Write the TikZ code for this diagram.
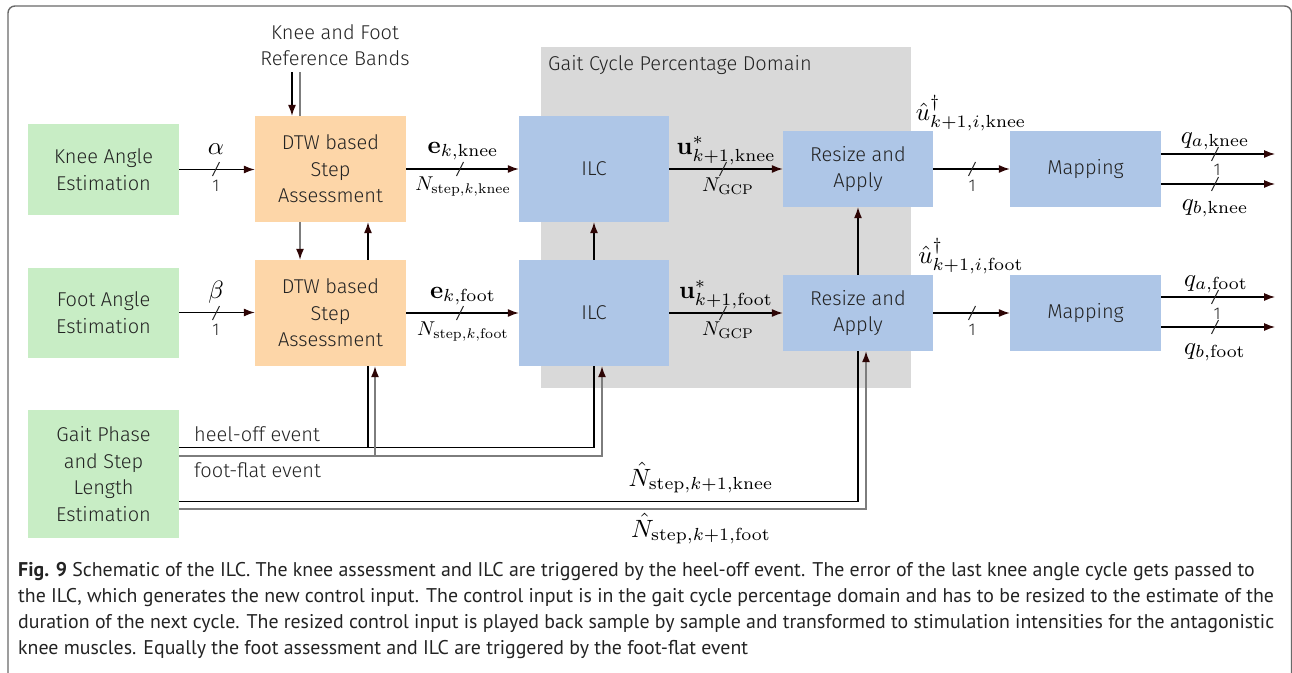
\RequirePackage{fix-cm}
\documentclass[tikz,border=0pt]{standalone}
\usepackage[no-math]{fontspec}
\setmainfont{Fira Sans Light}
\newfontfamily\capfont{PT Sans}
\usetikzlibrary{arrows.meta,calc}
\definecolor{boxgreen}{RGB}{200,237,197}
\definecolor{boxorange}{RGB}{253,214,168}
\definecolor{boxblue}{RGB}{174,198,231}
\definecolor{domgray}{RGB}{217,217,217}
\definecolor{linegray}{RGB}{125,125,125}
\definecolor{arrowc}{RGB}{45,5,5}
\definecolor{framec}{RGB}{105,105,105}
\definecolor{textc}{RGB}{35,35,35}
\pgfdeclarelayer{bgA}\pgfdeclarelayer{bgB}
\pgfsetlayers{bgA,bgB,main}
\tikzset{
  box/.style={draw=none, inner sep=0pt, align=center, text=textc,
    font=\fontsize{20}{26.5}\selectfont},
  gbox/.style={box, fill=boxgreen, minimum width=151pt},
  obox/.style={box, fill=boxorange, minimum width=151pt, minimum height=106pt},
  bbox/.style={box, fill=boxblue},
  arr/.style={-{Latex[length=11pt,width=8pt,color=arrowc]}},
  blk/.style={draw=black, line width=1.2pt},
  gry/.style={draw=linegray, line width=1.4pt},
  bigm/.style={inner sep=0pt, text=black, font=\fontsize{10}{12}\selectfont, scale=2.5, anchor=base},
  smallm/.style={inner sep=0pt, text=black, font=\fontsize{10}{12}\selectfont, scale=2.0, anchor=base},
  one/.style={inner sep=0pt, text=textc, font=\fontsize{17}{20}\selectfont},
  plain/.style={inner sep=0pt, text=textc, font=\fontsize{20}{26.5}\selectfont},
  slsh/.pic={\draw[line width=1pt, black!85] (-3.5,7) -- (3.5,-7);}
}
\begin{document}
\begin{tikzpicture}[x=1pt,y=-1pt]
\useasboundingbox (0,0) rectangle (1292,672);
\clip (0,0) rectangle (1292,672);
\draw[framec, line width=1.4pt, rounded corners=7pt] (8,6) rectangle (1291.5,720);

% domain
\begin{pgfonlayer}{bgA}
\fill[domgray] (541,47) rectangle (911,388);
\end{pgfonlayer}
\node[plain, anchor=base west] (domlab) at (548,70) {Gait Cycle Percentage Domain};

% boxes
\node[gbox, minimum height=91pt] (kae) at (103.5,169.5) {Knee Angle\\Estimation};
\node[gbox, minimum height=90pt] (fae) at (103.5,312.5) {Foot Angle\\Estimation};
\node[gbox, minimum height=128pt] (gait) at (103.5,474) {Gait Phase\\and Step\\Length\\Estimation};
\node[obox] (dtwk) at (330.5,169) {DTW based\\Step\\Assessment};
\node[obox] (dtwf) at (330.5,313) {DTW based\\Step\\Assessment};
\node[bbox, minimum width=150pt, minimum height=106pt] (ilck) at (594,169) {ILC};
\node[bbox, minimum width=150pt, minimum height=106pt] (ilcf) at (594,313) {ILC};
\node[bbox, minimum width=150pt, minimum height=76pt] (resk) at (858,169) {Resize and\\Apply};
\node[bbox, minimum width=150pt, minimum height=76pt] (resf) at (858,313) {Resize and\\Apply};
\node[bbox, minimum width=151pt, minimum height=76pt] (mapk) at (1085.5,169) {Mapping};
\node[bbox, minimum width=151pt, minimum height=76pt] (mapf) at (1085.5,313) {Mapping};
\node[plain, align=center] (ref) at (335,45) {Knee and Foot\\Reference Bands};

% coordinates
\coordinate (refb) at (335,72);
\coordinate (dkTopIn) at ([xshift=-38.5pt]dtwk.north);
\coordinate (dfTopIn) at ([xshift=-30.5pt]dtwf.north);
\coordinate (dkBotIn) at ([xshift=37.5pt]dtwk.south);
\coordinate (dfBotIn) at ([xshift=44.5pt]dtwf.south);
\coordinate (ifBotIn) at ([xshift=8pt]ilcf.south);
\coordinate (rfBotIn) at ([xshift=8pt]resf.south);
\path (gait.north east) ++(0,38) coordinate (hoS);
\path (gait.north east) ++(0,46) coordinate (ffS);
\path (gait.north east) ++(0,92) coordinate (nkS);
\path (gait.north east) ++(0,99) coordinate (nfS);
\coordinate (qak) at (1275,154);
\coordinate (qbk) at (1275,184);
\coordinate (qaf) at (1275,297);
\coordinate (qbf) at (1275,327);

\begin{pgfonlayer}{bgB}
% reference bands
\draw[blk,arr] (dkTopIn |- refb) -- (dkTopIn);
\draw[gry,arr] (dfTopIn |- refb) -- (dfTopIn);
% events
\draw[blk,arr] (hoS) -| (ilck.south);
\draw[blk,arr] (dkBotIn |- hoS) -- (dkBotIn);
\draw[gry,arr] (ffS) -| (ifBotIn);
\draw[gry,arr] (dfBotIn |- ffS) -- (dfBotIn);
\draw[blk,arr] (nkS) -| (resk.south);
\draw[gry,arr] (nfS) -| (rfBotIn);
\end{pgfonlayer}

% main signal arrows
\draw[blk,arr] (kae.east) -- (dtwk.west |- kae.east);
\draw[blk,arr] (fae.east) -- (dtwf.west |- fae.east);
\draw[blk,arr] (dtwk) -- (ilck);
\draw[blk,arr] (dtwf) -- (ilcf);
\draw[blk,arr] (ilck) -- (resk);
\draw[blk,arr] (ilcf) -- (resf);
\draw[blk,arr] (resk) -- (mapk);
\draw[blk,arr] (resf) -- (mapf);
\draw[blk,arr] (mapk.east |- qak) -- (qak);
\draw[blk,arr] (mapk.east |- qbk) -- (qbk);
\draw[blk,arr] (mapf.east |- qaf) -- (qaf);
\draw[blk,arr] (mapf.east |- qbf) -- (qbf);

% bus slashes
\pic at (216,169) {slsh};
\pic at (216,313) {slsh};
\pic at (460,169) {slsh};
\pic at (460,313) {slsh};
\pic at (723,169) {slsh};
\pic at (723,313) {slsh};
\pic at (972,169) {slsh};
\pic at (972,313) {slsh};
\pic at (1215,154) {slsh};
\pic at (1215,184) {slsh};
\pic at (1215,297) {slsh};
\pic at (1215,327) {slsh};

% labels
\node[bigm] (la) at (216,154) {$\alpha$};
\node[one] (la1) at (216,186) {1};
\node[bigm] (lb) at (216,298) {$\beta$};
\node[one] (lb1) at (216,330) {1};
\node[bigm] (lek) at (463,153) {$\mathbf{e}_{k,\mathrm{knee}}$};
\node[smallm] (lnk) at (463,190) {$N_{\mathrm{step},k,\mathrm{knee}}$};
\node[bigm] (lef) at (463,298) {$\mathbf{e}_{k,\mathrm{foot}}$};
\node[smallm] (lnf) at (463,335) {$N_{\mathrm{step},k,\mathrm{foot}}$};
\node[bigm] (luk) at (726,154) {$\mathbf{u}^{*}_{k+1,\mathrm{knee}}$};
\node[smallm] (lgk) at (728,191) {$N_{\mathrm{GCP}}$};
\node[bigm] (luf) at (726,298) {$\mathbf{u}^{*}_{k+1,\mathrm{foot}}$};
\node[smallm] (lgf) at (728,335) {$N_{\mathrm{GCP}}$};
\node[bigm] (lhk) at (971,120) {$\hat{u}^{\dagger}_{k+1,i,\mathrm{knee}}$};
\node[one] (lhk1) at (972,186) {1};
\node[bigm] (lhf) at (971,263) {$\hat{u}^{\dagger}_{k+1,i,\mathrm{foot}}$};
\node[one] (lhf1) at (972,330) {1};
\node[bigm] (lqak) at (1215,143) {$q_{a,\mathrm{knee}}$};
\node[one] (lqk1) at (1217,170) {1};
\node[bigm] (lqbk) at (1215,210) {$q_{b,\mathrm{knee}}$};
\node[bigm] (lqaf) at (1216,286) {$q_{a,\mathrm{foot}}$};
\node[one] (lqf1) at (1217,314) {1};
\node[bigm] (lqbf) at (1215,354) {$q_{b,\mathrm{foot}}$};
\node[plain, anchor=west] (lho) at (194,434) {heel-off event};
\node[plain, anchor=west] (lff) at (194,470) {foot-flat event};
\node[bigm] (lnhk) at (701,486) {$\hat{N}_{\mathrm{step},k+1,\mathrm{knee}}$};
\node[bigm] (lnhf) at (701,537) {$\hat{N}_{\mathrm{step},k+1,\mathrm{foot}}$};

% caption
\node[anchor=base west, align=left, inner sep=0pt, text=textc,
  font=\capfont\fontsize{19.85}{26}\selectfont] (cap) at (18,654)
{\textbf{Fig. 9} Schematic of the ILC. The knee assessment and ILC are triggered by the heel-off event. The error of the last knee angle cycle gets passed to\\
the ILC, which generates the new control input. The control input is in the gait cycle percentage domain and has to be resized to the estimate of the\\
duration of the next cycle. The resized control input is played back sample by sample and transformed to stimulation intensities for the antagonistic\\
knee muscles. Equally the foot assessment and ILC are triggered by the foot-flat event};
\end{tikzpicture}
\end{document}
